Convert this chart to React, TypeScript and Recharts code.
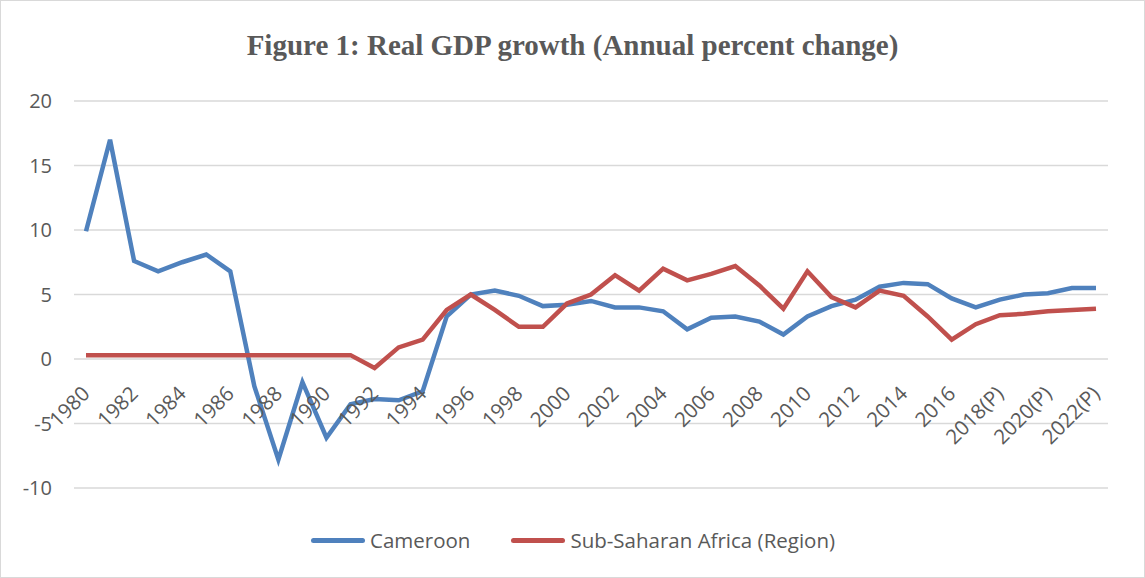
import { LineChart, Line, XAxis, YAxis, CartesianGrid, Legend } from 'recharts';

const years = [
  '1980', '1981', '1982', '1983', '1984', '1985', '1986', '1987', '1988', '1989',
  '1990', '1991', '1992', '1993', '1994', '1995', '1996', '1997', '1998', '1999',
  '2000', '2001', '2002', '2003', '2004', '2005', '2006', '2007', '2008', '2009',
  '2010', '2011', '2012', '2013', '2014', '2015', '2016', '2017',
  '2018(P)', '2019(P)', '2020(P)', '2021(P)', '2022(P)',
];

const cameroon = [
  9.9, 17.0, 7.6, 6.8, 7.5, 8.1, 6.8, -2.1, -7.8, -1.8,
  -6.1, -3.5, -3.1, -3.2, -2.5, 3.3, 5.0, 5.3, 4.9, 4.1,
  4.2, 4.5, 4.0, 4.0, 3.7, 2.3, 3.2, 3.3, 2.9, 1.9,
  3.3, 4.1, 4.6, 5.6, 5.9, 5.8, 4.7, 4.0,
  4.6, 5.0, 5.1, 5.5, 5.5,
];

const subSaharan = [
  0.3, 0.3, 0.3, 0.3, 0.3, 0.3, 0.3, 0.3, 0.3, 0.3,
  0.3, 0.3, -0.7, 0.9, 1.5, 3.8, 5.0, 3.8, 2.5, 2.5,
  4.3, 5.0, 6.5, 5.3, 7.0, 6.1, 6.6, 7.2, 5.7, 3.9,
  6.8, 4.8, 4.0, 5.3, 4.9, 3.3, 1.5, 2.7,
  3.4, 3.5, 3.7, 3.8, 3.9,
];

const yTicks = [-10, -5, 0, 5, 10, 15, 20];

const data = years.map((year, i) => ({ year, cameroon: cameroon[i], ssa: subSaharan[i] }));

const W = 1145;
const H = 578;
const PLOT_TOP = 101;
const PLOT_BOTTOM = 488;
// x labels sit under the zero line, not at the bottom of the plot
const ZERO_Y = PLOT_TOP + (PLOT_BOTTOM - PLOT_TOP) * (20 / 30);

const TEXT = '#595959';
const FONT = '"Open Sans", sans-serif';
const BLUE = '#4F81BD';
const RED = '#C0504D';

function XTick(props: any) {
  const { x, payload } = props;
  return (
    <g transform={`translate(${x},${ZERO_Y + 31})`}>
      <text transform="rotate(-45)" textAnchor="end" dy="0.35em" fill={TEXT} fontSize={20.5} fontFamily={FONT}>
        {payload.value}
      </text>
    </g>
  );
}

function LegendContent(props: any) {
  const { payload } = props;
  return (
    <div style={{ display: 'flex', justifyContent: 'flex-start', paddingLeft: 311, height: 30, lineHeight: '30px', gap: 41 }}>
      {payload.map((p: any) => (
        <div key={p.value} style={{ display: 'flex', alignItems: 'center' }}>
          <span style={{ display: 'inline-block', width: 54, height: 5, borderRadius: 3, background: p.color, marginRight: 5 }} />
          <span style={{ fontFamily: FONT, fontSize: 20.5, color: TEXT }}>{p.value}</span>
        </div>
      ))}
    </div>
  );
}

export default function App() {
  return (
    <div style={{ position: 'absolute', left: 0, top: 0, width: W, height: H, background: '#fff' }}>
      <div style={{ position: 'absolute', inset: 0, border: '1px solid #d9d9d9', pointerEvents: 'none' }} />
      <div style={{
        position: 'absolute', top: 28, left: 0, width: W, textAlign: 'center', lineHeight: '34px',
        fontFamily: '"Liberation Serif", serif', fontWeight: 'bold', fontSize: 29, color: TEXT,
      }}>
        Figure 1: Real GDP growth (Annual percent change)
      </div>
      <LineChart width={W} height={H} data={data} margin={{ top: PLOT_TOP, right: 37, left: 0, bottom: 30 }}>
        <CartesianGrid vertical={false} stroke="#d9d9d9" strokeWidth={1.3} />
        <XAxis dataKey="year" interval={1} axisLine={false} tickLine={false} height={30}
          padding={{ left: 12, right: 12 }} tick={<XTick />} />
        <YAxis width={74} domain={[-10, 20]} ticks={yTicks} axisLine={false} tickLine={false}
          tickSize={0} tickMargin={22} tick={{ fill: TEXT, fontSize: 20, fontFamily: FONT }} />
        <Legend verticalAlign="bottom" content={<LegendContent />} wrapperStyle={{ top: 525, left: 0, width: W }} />
        <Line type="linear" dataKey="cameroon" name="Cameroon" stroke={BLUE} strokeWidth={4.5}
          dot={false} activeDot={false} isAnimationActive={false} />
        <Line type="linear" dataKey="ssa" name="Sub-Saharan Africa (Region)" stroke={RED} strokeWidth={4.5}
          dot={false} activeDot={false} isAnimationActive={false} />
      </LineChart>
    </div>
  );
}
